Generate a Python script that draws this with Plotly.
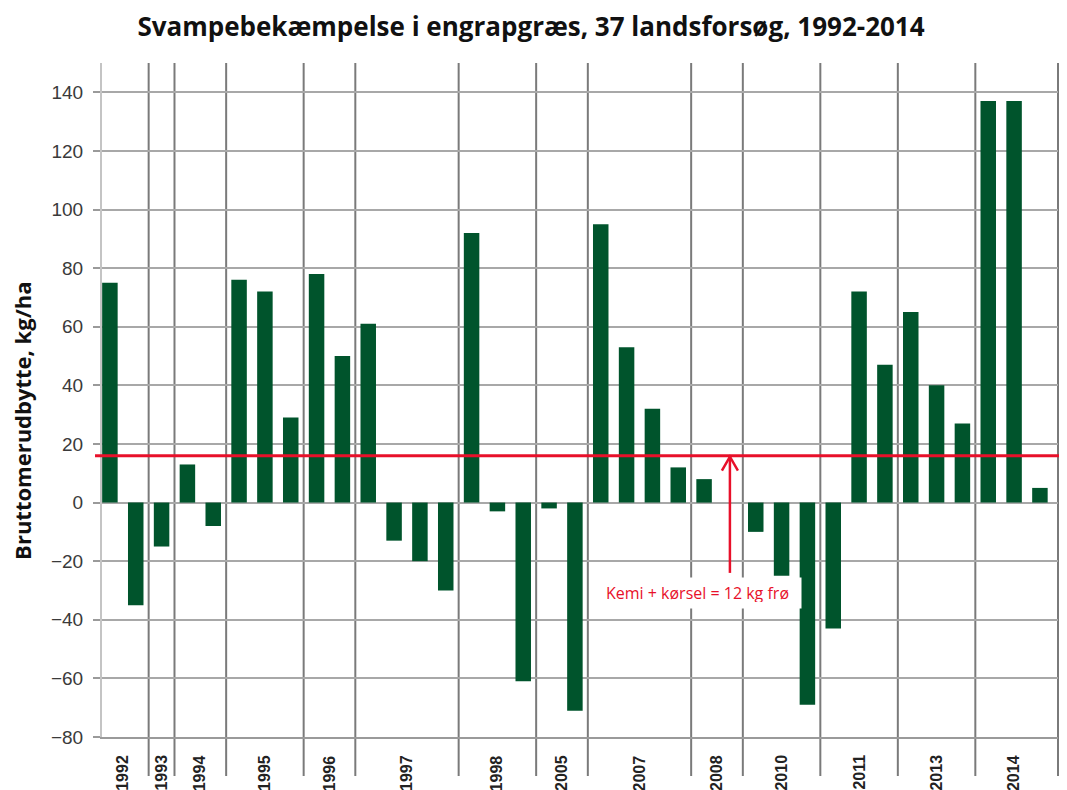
import plotly.graph_objects as go

# ---- data ----
values = [75, -35, -15, 13, -8, 76, 72, 29, 78, 50, 61, -13, -20, -30, 92, -3, -61,
          -2, -71, 95, 53, 32, 12, 8, 0, -10, -25, -69, -43, 72, 47, 65, 40, 27,
          137, 137, 5]
years = ["1992", "1993", "1994", "1995", "1996", "1997", "1998", "2005", "2007",
         "2008", "2010", "2011", "2013", "2014"]
group_sizes = [2, 1, 2, 3, 2, 4, 3, 2, 4, 2, 3, 3, 3, 3]
y_ticks = [-80, -60, -40, -20, 0, 20, 40, 60, 80, 100, 120, 140]
cost_line = 16
arrow_slot = 24
arrow_tail = -24
note_text = "Kemi + kørsel = 12 kg frø"
note_x = 22.74
note_y = -30.7

GREEN = "#00542C"
RED = "#E8102A"
GRID = "#a8a8a8"
SEP = "#7a7a7a"

x = list(range(len(values)))

fig = go.Figure()
fig.add_trace(go.Bar(x=x, y=values, width=0.6, marker=dict(color=GREEN, line=dict(width=0)),
                     showlegend=False, hoverinfo="y"))

shapes = []
annotations = []

# group separators and year labels
start = 0
for yr, n in zip(years, group_sizes):
    end = start + n
    center = start + (n - 1) / 2
    annotations.append(dict(x=center, xref="x", y=-0.0237, yref="paper", text=yr,
                            textangle=-90, showarrow=False, xanchor="center", yanchor="top",
                            font=dict(family="Liberation Sans", size=16, color="#222222",
                                      weight="bold")))
    if end < len(values):
        shapes.append(dict(type="line", xref="x", yref="paper", x0=end - 0.5, x1=end - 0.5,
                           y0=-0.058, y1=1, line=dict(color=SEP, width=2), layer="below"))
    start = end
# right border
shapes.append(dict(type="line", xref="paper", yref="paper", x0=1, x1=1, y0=-0.058, y1=1,
                   line=dict(color=SEP, width=2), layer="below"))

# red cost line
shapes.append(dict(type="line", xref="paper", yref="y", x0=-0.0073, x1=1.0094,
                   y0=cost_line, y1=cost_line, line=dict(color=RED, width=3), layer="above"))
# arrow shaft
shapes.append(dict(type="line", xref="x", yref="y", x0=arrow_slot, x1=arrow_slot,
                   y0=arrow_tail, y1=cost_line, line=dict(color=RED, width=2.5), layer="above"))
# arrow head (open V)
shapes.append(dict(type="path", xref="x", yref="y", xsizemode="pixel", ysizemode="pixel",
                   xanchor=arrow_slot, yanchor=cost_line,
                   path="M -8,-15 L 0,-1 L 8,-15", line=dict(color=RED, width=2.5),
                   layer="above"))

annotations.append(dict(x=note_x, y=note_y, xref="x", yref="y", text=note_text,
                        showarrow=False, bgcolor="white", borderpad=6, width=195, height=18,
                        font=dict(family="Open Sans", size=16, color=RED)))

# y-axis title
annotations.append(dict(x=-0.0837, y=0.469, xref="paper", yref="paper",
                        text="Bruttomerudbytte, kg/ha", textangle=-90, showarrow=False,
                        xanchor="center", yanchor="middle",
                        font=dict(family="Open Sans", size=22, color="#111111", weight="bold")))

# page body has an 8px margin, so the figure is sized/offset to compensate
fig.update_layout(
    width=1059, height=782,
    margin=dict(l=94, r=9, t=55, b=53),
    paper_bgcolor="white", plot_bgcolor="white",
    title=dict(text="<b>Svampebekæmpelse i engrapgræs, 37 landsforsøg, 1992-2014</b>",
               x=523 / 1059, xref="container", xanchor="center",
               y=1 - 19 / 782, yref="container", yanchor="middle",
               font=dict(family="Open Sans", size=26, color="#111111")),
    xaxis=dict(range=[-0.306, 36.7], showticklabels=False, showgrid=False, zeroline=False,
               showline=True, linecolor="#9a9a9a", linewidth=2, ticks=""),
    yaxis=dict(range=[-80, 150], tickvals=y_ticks, showgrid=True, gridcolor=GRID, gridwidth=1.5,
               zeroline=False, showline=True, linecolor="#c4c4c4", linewidth=2,
               ticks="outside", ticklen=7, tickcolor="#9a9a9a", tickwidth=1.5,
               ticklabelstandoff=6,
               tickfont=dict(family="Liberation Sans", size=19, color="#3a3a3a")),
    shapes=shapes, annotations=annotations,
    bargap=0.4,
)

fig.write_html("out.html")
